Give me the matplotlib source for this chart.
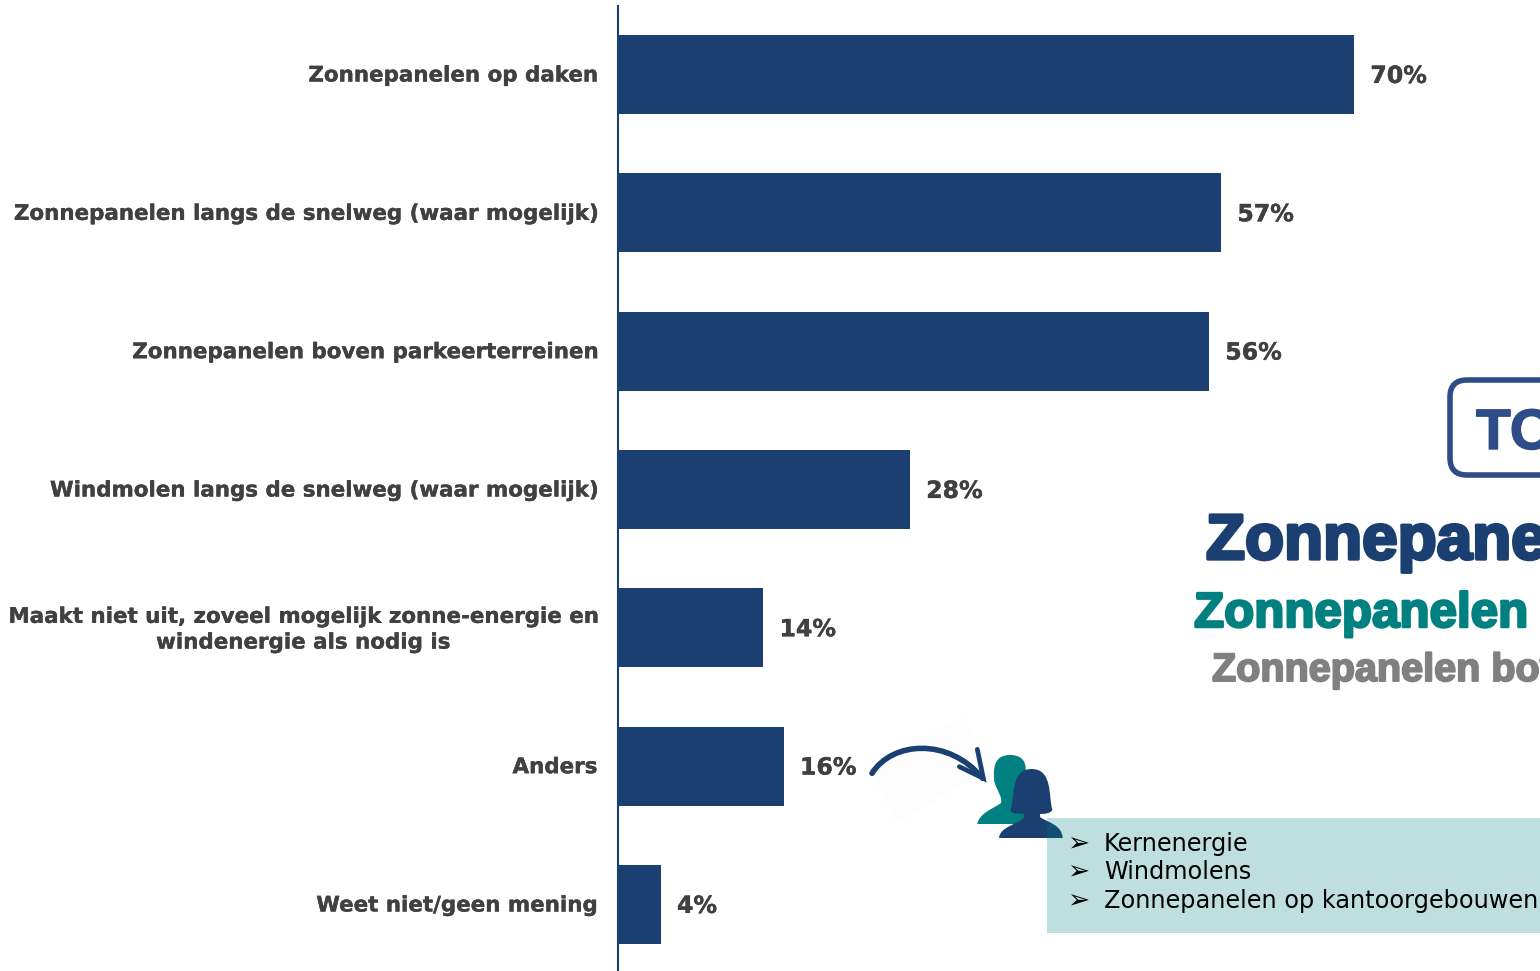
import matplotlib
matplotlib.use("Agg")
import matplotlib.pyplot as plt
import matplotlib.patheffects as pe
from matplotlib.patches import FancyBboxPatch, PathPatch, Rectangle, Polygon
from matplotlib.path import Path
from matplotlib.transforms import ScaledTranslation

categories = [
    "Zonnepanelen op daken",
    "Zonnepanelen langs de snelweg (waar mogelijk)",
    "Zonnepanelen boven parkeerterreinen",
    "Windmolen langs de snelweg (waar mogelijk)",
    "Maakt niet uit, zoveel mogelijk zonne-energie en\nwindenergie als nodig is",
    "Anders",
    "Weet niet/geen mening",
]
values = [70.0, 57.35, 56.2, 27.75, 13.8, 15.75, 4.05]
value_labels = ["70%", "57%", "56%", "28%", "14%", "16%", "4%"]
other_answers = ["Kernenergie", "Windmolens", "Zonnepanelen op kantoorgebouwen"]
top_lines = ["Zonnepanelen op daken", "Zonnepanelen langs de snelweg", "Zonnepanelen boven parkeerterreinen"]

NAVY = "#1A3F70"
TEAL = "#008080"
GRAY = "#808080"
TEXT = "#404040"
W, H = 1540, 971

fig = plt.figure(figsize=(W / 100, H / 100), dpi=100, facecolor="white")

# Bar chart
ax = fig.add_axes([618 / W, 0, (W - 618) / W, (H - 6) / H])
y = list(range(len(categories)))
ax.barh(y, values, height=0.571, color=NAVY)
ax.set_xlim(0, (W - 618) / 10.514)
ax.set_ylim((971 - 74.5) / 138.33, (6 - 74.5) / 138.33)
ax.set_yticks(y)
ax.set_yticklabels(categories, fontsize=15.4, fontweight="bold", color=TEXT,
                   multialignment="center", linespacing=1.36)
ax.tick_params(axis="y", length=0, pad=15)
for lab in ax.get_yticklabels():
    lab.set_path_effects([pe.withStroke(linewidth=0.25, foreground=TEXT)])
ax.xaxis.set_visible(False)
for s in ["top", "right", "bottom"]:
    ax.spines[s].set_visible(False)
ax.spines["left"].set_color(NAVY)
ax.spines["left"].set_linewidth(1.5)
for yi, v, lab in zip(y, values, value_labels):
    ax.annotate(lab, (v, yi), xytext=(11.8, -1), textcoords="offset points",
                va="center", ha="left", fontsize=17, fontweight="bold", color=TEXT,
                path_effects=[pe.withStroke(linewidth=0.3, foreground=TEXT)])

# Overlay in pixel coordinates for the pictorial annotations
ov = fig.add_axes([0, 0, 1, 1], facecolor="none")
ov.set_xlim(0, W)
ov.set_ylim(H, 0)
ov.axis("off")

def z(x, y):
    return (860 + x / 3, 710 + y / 3)

def curve(points):
    verts = [z(*p) for p in points]
    codes = [Path.MOVETO] + [Path.CURVE4] * (len(verts) - 1)
    return Path(verts, codes)

# Faint paper behind the arrow
ov.add_patch(Polygon([z(30, 180), z(310, 20), z(390, 170), z(110, 340)], closed=True,
                     facecolor="#FDFDFD", edgecolor="none", zorder=1))

# Curved arrow
ov.add_patch(PathPatch(curve([(36, 190), (95, 95), (265, 80), (368, 205)]),
                       facecolor="none", edgecolor=NAVY, lw=4.0, capstyle="round", zorder=2))
ov.add_patch(PathPatch(Path([z(352, 118), z(370, 205), z(298, 170)],
                            [Path.MOVETO, Path.LINETO, Path.LINETO]),
                       facecolor="none", edgecolor=NAVY, lw=3.4, capstyle="round",
                       joinstyle="miter", zorder=2))

# People
man = curve([(352, 342),
             (358, 310), (395, 298), (422, 280),
             (430, 265), (410, 240), (403, 215),
             (398, 170), (405, 135), (450, 135),
             (480, 135), (497, 150), (497, 175),
             (500, 220), (505, 290), (510, 342),
             (450, 342), (400, 342), (352, 342)])
ov.add_patch(PathPatch(man, facecolor=TEAL, edgecolor="none", zorder=3))
woman = curve([(417, 384),
               (420, 350), (470, 345), (492, 322),
               (492, 318), (492, 314), (490, 311),
               (470, 312), (450, 310), (452, 298),
               (465, 265), (450, 177), (515, 177),
               (580, 177), (565, 265), (577, 298),
               (575, 310), (555, 312), (540, 312),
               (540, 316), (540, 320), (541, 322),
               (570, 340), (605, 345), (608, 384),
               (540, 384), (480, 384), (417, 384)])
ov.add_patch(PathPatch(woman, facecolor=NAVY, edgecolor="none", zorder=4))

# Box with other answers
ov.add_patch(Rectangle((1047, 818), W - 1047, 115, facecolor=TEAL, alpha=0.25, edgecolor="none", zorder=5))
for yy, t in zip([844, 872, 901], other_answers):
    ov.text(1067, yy, "\u27a2", fontsize=19, va="center", ha="left", color="black", zorder=6,
            family="DejaVu Sans")
    ov.text(1104, yy, t, fontsize=17.3, va="center", ha="left", color="black", zorder=6)

# TOP 3 panel running off the right edge
ov.add_patch(FancyBboxPatch((1467, 397), 200, 61, boxstyle="round,pad=17,rounding_size=17",
                            facecolor="white", edgecolor="#2E4C87", lw=4, zorder=2))
ov.text(1476, 449, "TOP 3", fontsize=41, fontweight="bold", family="Liberation Sans",
        color="#2E4C87", va="baseline", ha="left", zorder=3,
        path_effects=[pe.withStroke(linewidth=1.0, foreground="#2E4C87")])

for t, xx, yy, fs, col, lw in zip(top_lines, [1206, 1194, 1212], [559, 627, 681],
                                  [46, 35.5, 28.5], [NAVY, TEAL, GRAY], [2.4, 1.8, 1.4]):
    ov.text(xx, yy, t, fontsize=fs, fontweight="bold", family="Liberation Sans", color=col,
            va="baseline", ha="left", zorder=3,
            path_effects=[pe.withStroke(linewidth=lw, foreground=col)])

# Nudge category labels to the reference's baselines
fig.canvas.draw()
for i, lab in enumerate(ax.get_yticklabels()):
    dy = 3 if "\n" in lab.get_text() else 1
    lab.set_transform(lab.get_transform() + ScaledTranslation(0, dy / 100, fig.dpi_scale_trans))

fig.savefig("out.png", dpi=100, facecolor="white")
